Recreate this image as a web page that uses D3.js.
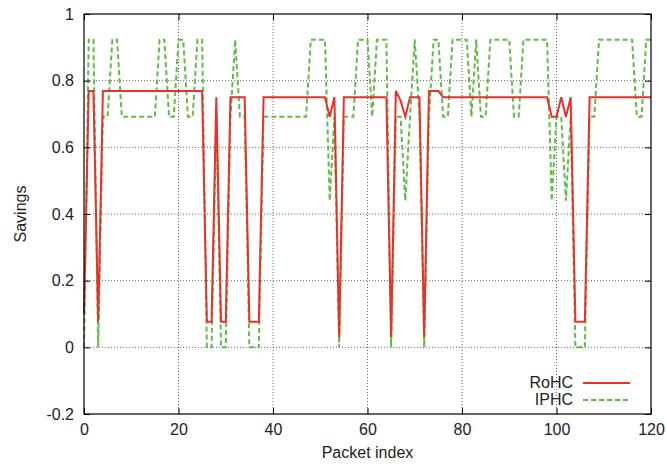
<!DOCTYPE html>
<html>
<head>
<meta charset="utf-8">
<script src="https://cdn.jsdelivr.net/npm/d3@7"></script>
<style>
  body { margin: 0; background: #fff; }
  text { font-family: "Liberation Sans", Arial, sans-serif; fill: #222; }
</style>
</head>
<body>
<svg width="667" height="468"></svg>
<script>
// savings per packet, index = packet number (0..120)
var rohc = [
  0.10, 0.769, 0.769, 0.077, 0.769, 0.769, 0.769, 0.769, 0.769, 0.769,
  0.769, 0.769, 0.769, 0.769, 0.769, 0.769, 0.769, 0.769, 0.769, 0.769,
  0.769, 0.769, 0.769, 0.769, 0.769, 0.769, 0.077, 0.077, 0.75, 0.077,
  0.077, 0.75, 0.75, 0.75, 0.75, 0.077, 0.077, 0.077, 0.75, 0.75,
  0.75, 0.75, 0.75, 0.75, 0.75, 0.75, 0.75, 0.75, 0.75, 0.75,
  0.75, 0.75, 0.692, 0.75, 0.03, 0.75, 0.75, 0.75, 0.75, 0.75,
  0.75, 0.75, 0.75, 0.75, 0.75, 0.03, 0.769, 0.74, 0.692, 0.75,
  0.75, 0.75, 0.03, 0.769, 0.769, 0.769, 0.75, 0.75, 0.75, 0.75,
  0.75, 0.75, 0.75, 0.75, 0.75, 0.75, 0.75, 0.75, 0.75, 0.75,
  0.75, 0.75, 0.75, 0.75, 0.75, 0.75, 0.75, 0.75, 0.75, 0.692,
  0.692, 0.75, 0.692, 0.75, 0.077, 0.077, 0.077, 0.75, 0.75, 0.75,
  0.75, 0.75, 0.75, 0.75, 0.75, 0.75, 0.75, 0.75, 0.75, 0.75,
  0.75
];
var iphc = [
  0, 0.923, 0.923, 0, 0.692, 0.692, 0.923, 0.923, 0.692, 0.692,
  0.692, 0.692, 0.692, 0.692, 0.692, 0.692, 0.923, 0.923, 0.692, 0.692,
  0.923, 0.923, 0.692, 0.692, 0.923, 0.923, 0, 0, 0.692, 0,
  0, 0.692, 0.923, 0.692, 0.692, 0, 0, 0, 0.692, 0.692,
  0.692, 0.692, 0.692, 0.692, 0.692, 0.692, 0.692, 0.692, 0.923, 0.923,
  0.923, 0.923, 0.44, 0.692, 0, 0.692, 0.692, 0.692, 0.923, 0.923,
  0.923, 0.692, 0.923, 0.923, 0.923, 0, 0.692, 0.692, 0.44, 0.692,
  0.923, 0.692, 0, 0.692, 0.923, 0.923, 0.692, 0.692, 0.923, 0.923,
  0.923, 0.923, 0.692, 0.923, 0.692, 0.692, 0.923, 0.923, 0.923, 0.923,
  0.923, 0.692, 0.692, 0.923, 0.923, 0.923, 0.923, 0.923, 0.923, 0.44,
  0.692, 0.692, 0.44, 0.692, 0, 0, 0, 0.692, 0.692, 0.923,
  0.923, 0.923, 0.923, 0.923, 0.923, 0.923, 0.923, 0.692, 0.692, 0.923,
  0.923
];
var xTicks = [0, 20, 40, 60, 80, 100, 120];
var yTicks = [-0.2, 0, 0.2, 0.4, 0.6, 0.8, 1];
var seriesNames = ["RoHC", "IPHC"];

var plotLeft = 84, plotRight = 651, plotTop = 14, plotBottom = 414;
var redColor = "#e6312d", greenColor = "#62bb46";
var svg = d3.select("svg");

var xScale = d3.scaleLinear().domain([0, 120]).range([plotLeft, plotRight]);
var yScale = d3.scaleLinear().domain([-0.2, 1]).range([plotBottom, plotTop]);

// grid
var grid = svg.append("g").attr("class", "grid");
grid.selectAll("line.gx").data(xTicks.slice(1, -1)).enter()
  .append("line").attr("class", "gx")
  .attr("x1", d => xScale(d)).attr("x2", d => xScale(d))
  .attr("y1", plotTop).attr("y2", plotBottom)
  .style("stroke", "#666").style("stroke-dasharray", "1,2");
grid.selectAll("line.gy").data(yTicks.slice(1, -1)).enter()
  .append("line").attr("class", "gy")
  .attr("y1", d => yScale(d)).attr("y2", d => yScale(d))
  .attr("x1", plotLeft).attr("x2", plotRight)
  .style("stroke", "#666").style("stroke-dasharray", "1,2");

// series
var line = d3.line().x((d, i) => xScale(i)).y(d => yScale(d));

svg.append("path").datum(iphc)
  .attr("d", line)
  .style("fill", "none").style("stroke", greenColor)
  .style("stroke-width", 2).style("stroke-dasharray", "5,3");

svg.append("path").datum(rohc)
  .attr("d", line)
  .style("fill", "none").style("stroke", redColor)
  .style("stroke-width", 2);

// axes (ticks pointing inward, mirrored)
var xAxis = d3.axisBottom(xScale).tickValues(xTicks).tickSize(-6).tickPadding(10).tickFormat(d3.format("d"));
var yAxis = d3.axisLeft(yScale).tickValues(yTicks).tickSize(-6).tickPadding(10).tickFormat(d => String(+d.toFixed(1)));

svg.append("g").attr("class", "x axis")
  .attr("transform", "translate(0," + plotBottom + ")")
  .call(xAxis);
svg.append("g").attr("class", "y axis")
  .attr("transform", "translate(" + plotLeft + ",0)")
  .call(yAxis);
svg.append("g").attr("transform", "translate(0," + plotTop + ")")
  .call(d3.axisTop(xScale).tickValues(xTicks).tickSize(-6).tickFormat(""));
svg.append("g").attr("transform", "translate(" + plotRight + ",0)")
  .call(d3.axisRight(yScale).tickValues(yTicks).tickSize(-6).tickFormat(""));

svg.selectAll(".domain").remove();
svg.selectAll(".tick line").style("stroke", "#000");
svg.selectAll(".axis text").style("font-size", "16px").style("fill", "#222")
  .style("font-family", "'Liberation Sans', Arial, sans-serif");

svg.append("rect")
  .attr("x", plotLeft).attr("y", plotTop)
  .attr("width", plotRight - plotLeft).attr("height", plotBottom - plotTop)
  .style("fill", "none").style("stroke", "#000").style("stroke-width", 1.2);

// axis titles
svg.append("text")
  .attr("x", (plotLeft + plotRight) / 2).attr("y", 458)
  .attr("text-anchor", "middle").style("font-size", "16px")
  .text("Packet index");
svg.append("text")
  .attr("transform", "translate(26," + ((plotTop + plotBottom) / 2) + ") rotate(-90)")
  .attr("text-anchor", "middle").style("font-size", "16px")
  .text("Savings");

// legend
var legend = svg.append("g");
var legendStyles = [
  { color: redColor, dash: null },
  { color: greenColor, dash: "5,3" }
];
seriesNames.forEach(function(name, i) {
  var y = 383 + i * 17;
  legend.append("text")
    .attr("x", 573).attr("y", y + 5)
    .attr("text-anchor", "end").style("font-size", "16px")
    .text(name);
  legend.append("line")
    .attr("x1", 583).attr("x2", 630).attr("y1", y).attr("y2", y)
    .style("stroke", legendStyles[i].color).style("stroke-width", 2)
    .style("stroke-dasharray", legendStyles[i].dash);
});
</script>
</body>
</html>
